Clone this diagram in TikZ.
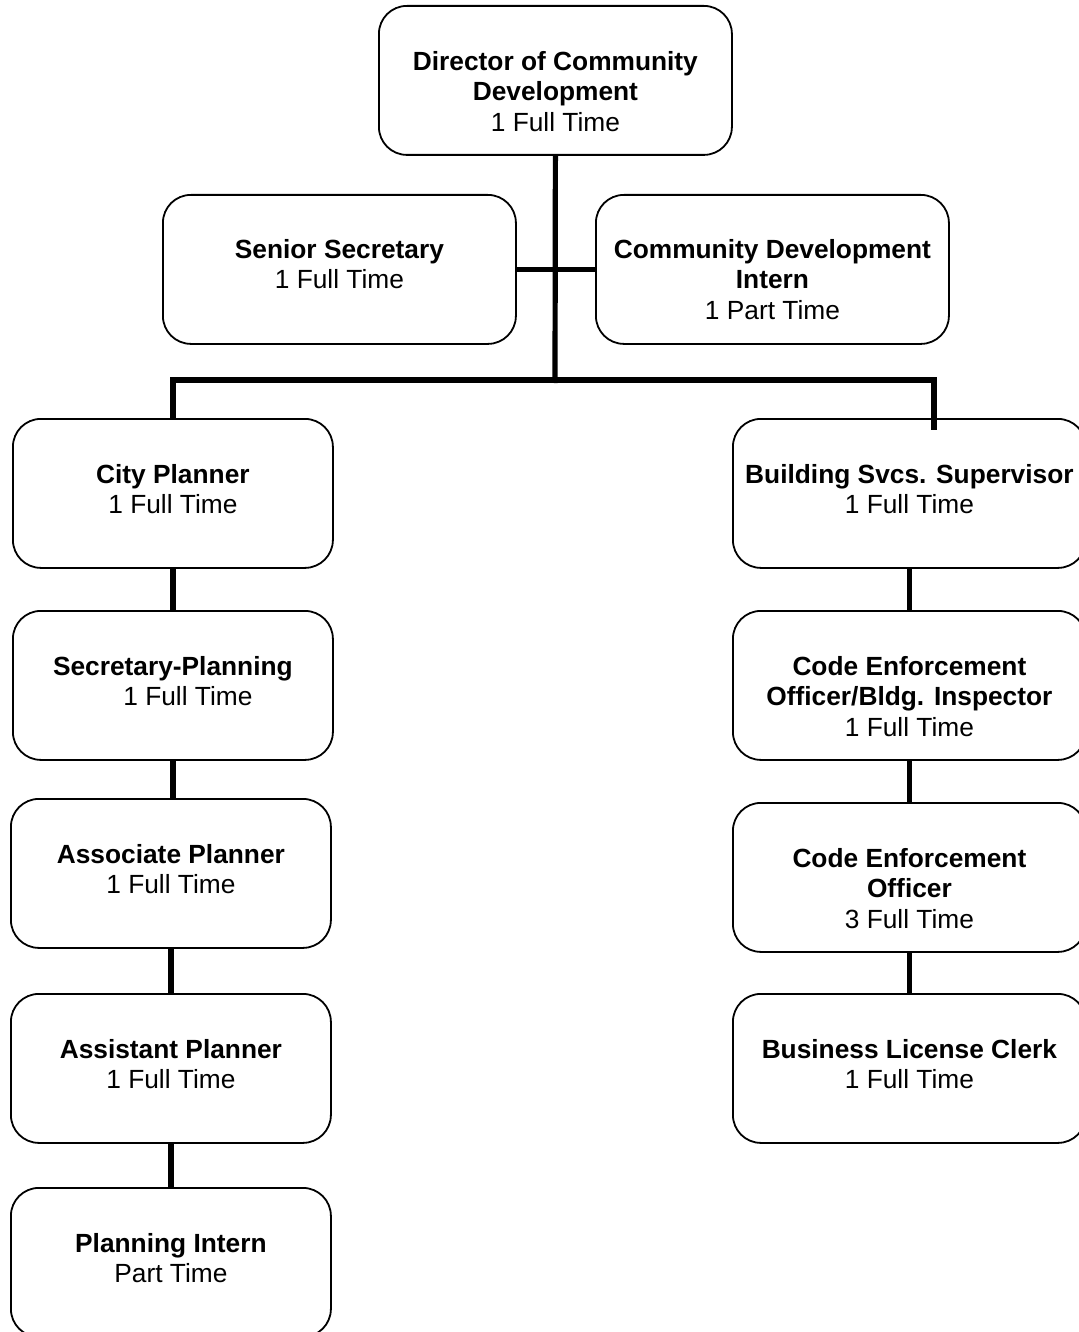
\documentclass[tikz,border=0pt]{standalone}
\usepackage{fontspec}
\setmainfont{Liberation Sans}
\begin{document}
\begin{tikzpicture}[x=1pt,y=-1pt,
  box/.style={draw, line width=1.8pt, rounded corners=28pt, inner sep=0pt,
    minimum height=149pt, anchor=north west},
  wbox/.style={box, minimum width=353pt},
  nbox/.style={box, minimum width=320pt},
  lbl/.style={align=center, anchor=north, inner sep=0pt,
    font=\fontsize{26.3}{30.5}\selectfont},
  conn/.style={line width=5.2pt}]
\useasboundingbox (0,0) rectangle (1078,1332);

% boxes
\node[wbox] (dir)    at (378,5)   {};
\node[wbox] (sec)    at (162,194) {};
\node[wbox] (intern) at (595,194) {};

\node[nbox] (city)  at (12,418)  {};
\node[nbox] (secp)  at (12,610)  {};
\node[nbox] (assoc) at (10,798)  {};
\node[nbox] (asst)  at (10,993)  {};
\node[nbox] (pint)  at (10,1187) {};

\node[wbox] (bldg)  at (732,418) {};
\node[wbox] (ceobi) at (732,610) {};
\node[wbox] (ceo)   at (732,802) {};
\node[wbox] (blc)   at (732,993) {};

% labels, first line set at a fixed depth below each box top
\node[lbl] (tdir) at ([yshift=-46pt]dir.north)
  {\textbf{Director of Community}\\\textbf{Development}\\1 Full Time};
\node[lbl] (tsec) at ([yshift=-45pt]sec.north)
  {\textbf{Senior Secretary}\\1 Full Time};
\node[lbl] (tint) at ([yshift=-45pt]intern.north)
  {\textbf{Community Development}\\\textbf{Intern}\\1 Part Time};
\node[lbl] (tcity) at ([yshift=-46pt]city.north)
  {\textbf{City Planner}\\1 Full Time};
\node[lbl] (tsecp) at ([yshift=-46pt]secp.north)
  {\textbf{Secretary-Planning}\\\hspace*{30pt}1 Full Time};
\node[lbl] (tassoc) at ([yshift=-46pt]assoc.north)
  {\textbf{Associate Planner}\\1 Full Time};
\node[lbl] (tasst) at ([yshift=-46pt]asst.north)
  {\textbf{Assistant Planner}\\1 Full Time};
\node[lbl] (tpint) at ([yshift=-46pt]pint.north)
  {\textbf{Planning Intern}\\Part Time};
\node[lbl] (tbldg) at ([yshift=-46pt]bldg.north)
  {\textbf{Building Svcs. Supervisor}\\1 Full Time};
\node[lbl] (tceobi) at ([yshift=-46pt]ceobi.north)
  {\textbf{Code Enforcement}\\\textbf{Officer/Bldg. Inspector}\\1 Full Time};
\node[lbl] (tceo) at ([yshift=-46pt]ceo.north)
  {\textbf{Code Enforcement}\\\textbf{Officer}\\3 Full Time};
\node[lbl] (tblc) at ([yshift=-46pt]blc.north)
  {\textbf{Business License Clerk}\\1 Full Time};

% connectors
\coordinate (busM) at (555,383);
\coordinate (busR) at (934,380);
\coordinate (rdrop) at (934,430);
\draw[conn] (dir.south) -- (busM);
\draw[conn] (sec.east) -- (intern.west);
\draw[conn] (city.north) |- (busR) -- (rdrop);

\draw[conn] (city.south) -- (secp.north);
\draw[conn] (secp.south) -- (secp.south |- assoc.north);
\draw[conn] (assoc.south) -- (asst.north);
\draw[conn] (asst.south) -- (pint.north);

\draw[conn] (bldg.south) -- (ceobi.north);
\draw[conn] (ceobi.south) -- (ceo.north);
\draw[conn] (ceo.south) -- (blc.north);
\end{tikzpicture}
\end{document}
